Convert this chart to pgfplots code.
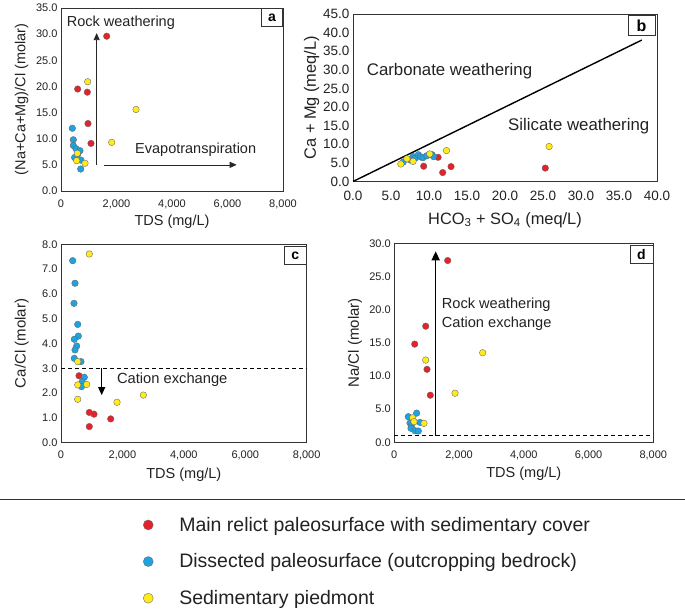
\documentclass[border=0pt]{standalone}
\usepackage{fontspec}
\setmainfont{Liberation Sans}
\usepackage{pgfplots}
\pgfplotsset{compat=1.18}
\usetikzlibrary{arrows.meta}
\definecolor{cred}{HTML}{E3232B}
\definecolor{cblue}{HTML}{1EA2E0}
\definecolor{cyel}{HTML}{FFEA1A}
\definecolor{txt}{HTML}{222222}
\pgfplotsset{
  base/.style={
    scale only axis, clip=false,
    axis line style={black!80, line width=0.8pt},
    major tick length=0pt, tick style={draw=none},
    scaled ticks=false,
    /pgf/number format/assume math mode=true,
    every tick label/.append style={text=txt},
    label style={text=txt},
  },
  ptr/.style={only marks, mark=*, mark size=3.3pt, mark options={fill=cred, draw=black!60, line width=0.35pt},
    legend image code/.code={\draw[##1, mark size=5pt] plot coordinates {(0pt,0pt)};}},
  ptb/.style={only marks, mark=*, mark size=3.3pt, mark options={fill=cblue, draw=black!60, line width=0.35pt},
    legend image code/.code={\draw[##1, mark size=5pt] plot coordinates {(0pt,0pt)};}},
  pty/.style={only marks, mark=*, mark size=3.3pt, mark options={fill=cyel, draw=black!60, line width=0.35pt},
    legend image code/.code={\draw[##1, mark size=5pt] plot coordinates {(0pt,0pt)};}},
  tdsx/.style={xmin=0, xmax=8000, xtick={0,2000,...,8000},
    xticklabel style={font=\fontsize{11}{13}\selectfont, yshift=-5pt, /pgf/number format/.cd, fixed, 1000 sep={,}}},
  oney/.style={yticklabel style={font=\fontsize{11}{13}\selectfont, /pgf/number format/.cd, fixed, fixed zerofill, precision=1}},
}
\newcommand\fs[1]{\fontsize{#1}{#1}\selectfont}
\begin{document}
\begin{tikzpicture}
\path[use as bounding box] (0pt,0pt) rectangle (685pt,610pt);

% ---------- panel a
\begin{axis}[base, tdsx, oney,
  at={(61pt,419pt)}, anchor=south west, width=222pt, height=183pt,
  ymin=0, ymax=35, ytick={0,5,...,35},
  xlabel={TDS (mg/L)}, ylabel={(Na+Ca+Mg)/Cl (molar)},
  xlabel style={at={(axis description cs:0.5,-0.169)}, anchor=center, font=\fs{14.5}},
  ylabel style={at={(axis description cs:-0.177,0.5)}, anchor=center, font=\fs{14.5}},
]
\addplot[ptr] coordinates {(1647,29.6) (601,19.5) (949,18.9) (973,12.9) (1081,9.1)};
\addplot[ptb] coordinates {(408,12.0) (444,9.8) (444,8.7) (540,8.1) (685,7.7) (600,7.0) (490,6.4) (720,5.9) (710,4.2)};
\addplot[pty] coordinates {(961,20.9) (2703,15.6) (1826,9.3) (589,7.2) (565,5.8) (865,5.3)};
\draw[-{Triangle[length=7pt,width=6pt]}, line width=0.7pt, black!85] (axis cs:1286,5) -- (axis cs:1286,30.2);
\draw[-{Triangle[length=7pt,width=6pt]}, line width=0.7pt, black!85] (axis cs:1561,5) -- (axis cs:6332,5);
\node[anchor=west, inner sep=0pt, font=\fs{14.5}, text=txt] at (axis cs:205,32.1) {Rock weathering};
\node[anchor=west, inner sep=0pt, font=\fs{14.5}, text=txt] at (axis cs:2667,7.85) {Evapotranspiration};
\node[draw=black!80, line width=0.8pt, fill=white, anchor=north east, minimum width=21pt, minimum height=18pt, inner sep=0pt, font=\bfseries\fs{14}] at (rel axis cs:1,1) {a};
\end{axis}

% ---------- panel b
\begin{axis}[base,
  at={(353pt,428.5pt)}, anchor=south west, width=304pt, height=167.5pt,
  xmin=0, xmax=40, ymin=0, ymax=45, xtick={0,5,...,40}, ytick={0,5,...,45},
  xticklabel style={font=\fs{13.5}, yshift=-6pt, /pgf/number format/.cd, fixed, fixed zerofill, precision=1},
  yticklabel style={font=\fs{13.5}, /pgf/number format/.cd, fixed, fixed zerofill, precision=1},
  xlabel={HCO\textsubscript{3} + SO\textsubscript{4} (meq/L)}, ylabel={Ca + Mg (meq/L)},
  xlabel style={at={(axis description cs:0.5,-0.23)}, anchor=center, font=\fs{16.4}},
  ylabel style={at={(axis description cs:-0.136,0.5)}, anchor=center, font=\fs{16.4}},
]
\addplot[black, line width=1.4pt, forget plot] coordinates {(0,0) (38,38)};
\addplot[ptr] coordinates {(11.2,6.5) (9.3,4.1) (11.8,2.4) (12.9,4.0) (25.3,3.6)};
\addplot[ptb] coordinates {(6.6,5.2) (7.5,5.8) (7.9,6.7) (8.2,6.3) (8.6,7.2) (8.9,6.6) (9.2,6.4) (9.7,6.9) (10.4,7.2) (10.6,6.7)};
\addplot[pty] coordinates {(6.3,4.7) (7.1,6.1) (7.9,5.4) (10.1,7.4) (12.3,8.3) (25.8,9.4)};
\node[anchor=west, inner sep=0pt, font=\fs{16.8}, text=txt] at (axis cs:1.8,29.7) {Carbonate weathering};
\node[anchor=west, inner sep=0pt, font=\fs{16.8}, text=txt] at (axis cs:20.4,15.0) {Silicate weathering};
\node[draw=black!80, line width=0.8pt, fill=white, anchor=north east, minimum width=27pt, minimum height=20pt, inner sep=0pt, font=\bfseries\fs{16}, xshift=-1.5pt, yshift=-1.5pt] at (rel axis cs:1,1) {b};
\end{axis}

% ---------- panel c
\begin{axis}[base, tdsx, oney,
  at={(61pt,167.3pt)}, anchor=south west, width=245.7pt, height=198.4pt,
  ymin=0, ymax=8, ytick={0,1,...,8},
  xlabel={TDS (mg/L)}, ylabel={Ca/Cl (molar)},
  xlabel style={at={(axis description cs:0.5,-0.16)}, anchor=center, font=\fs{14.5}},
  ylabel style={at={(axis description cs:-0.16,0.5)}, anchor=center, font=\fs{15}},
  legend cell align=left,
  legend style={at={(axis description cs:0.334,-0.364)}, anchor=north west, draw=none, fill=none,
    inner sep=0pt, font=\fs{19.5}, text=txt, row sep=17pt,
    /tikz/every odd column/.append style={column sep=24pt}},
]
\addplot[ptr] coordinates {(586,2.70) (922,1.22) (1075,1.15) (1619,0.96) (922,0.65)};
\addlegendentry{Main relict paleosurface with sedimentary cover}
\addplot[ptb] coordinates {(381,7.34) (456,6.43) (423,5.62) (544,4.77) (564,4.30) (433,4.17) (511,3.90) (456,3.74) (433,3.40) (651,3.27) (759,2.64) (690,2.46) (668,2.26)};
\addlegendentry{Dissected paleosurface (outcropping bedrock)}
\addplot[pty] coordinates {(922,7.61) (544,3.27) (544,2.33) (837,2.35) (544,1.75) (1824,1.63) (2681,1.92)};
\addlegendentry{Sedimentary piedmont}
\addplot[black, line width=1.1pt, dash pattern=on 4pt off 3pt, forget plot] coordinates {(0,3) (8000,3)};
\draw[-{Triangle[length=8pt,width=7pt]}, line width=1.1pt, black] (axis cs:1325,3.0) -- (axis cs:1325,1.92);
\node[anchor=west, inner sep=0pt, font=\fs{14.7}, text=txt] at (axis cs:1820,2.55) {Cation exchange};
\node[draw=black!80, line width=0.8pt, fill=white, anchor=north east, minimum width=22pt, minimum height=18pt, inner sep=0pt, font=\bfseries\fs{14}, yshift=-2pt] at (rel axis cs:1,1) {c};
\end{axis}

% ---------- panel d
\begin{axis}[base, tdsx, oney,
  at={(394.3pt,167.7pt)}, anchor=south west, width=259pt, height=199pt,
  ymin=0, ymax=30, ytick={0,5,...,30},
  xlabel={TDS (mg/L)}, ylabel={Na/Cl (molar)},
  xlabel style={at={(axis description cs:0.5,-0.16)}, anchor=center, font=\fs{14.5}},
  ylabel style={at={(axis description cs:-0.152,0.5)}, anchor=center, font=\fs{15}},
]
\addplot[ptr] coordinates {(1649,27.4) (970,17.5) (630,14.8) (1010,11.0) (1112,7.1)};
\addplot[ptb] coordinates {(432,3.86) (691,4.40) (485,2.9) (537,2.6) (516,2.1) (639,1.75) (741,1.7) (793,3.0)};
\addplot[pty] coordinates {(970,12.4) (2730,13.5) (1875,7.4) (568,3.7) (608,3.1) (917,2.86)};
\addplot[black, line width=1.1pt, dash pattern=on 4pt off 3pt, forget plot] coordinates {(0,1) (8000,1)};
\draw[-{Triangle[length=9pt,width=8pt]}, line width=1.6pt, black] (axis cs:1278,1.0) -- (axis cs:1278,28.8);
\node[anchor=west, inner sep=0pt, font=\fs{14.6}, text=txt] at (axis cs:1464,20.8) {Rock weathering};
\node[anchor=west, inner sep=0pt, font=\fs{14.6}, text=txt] at (axis cs:1464,17.8) {Cation exchange};
\node[draw=black!80, line width=0.8pt, fill=white, anchor=north east, minimum width=23pt, minimum height=18pt, inner sep=0pt, font=\bfseries\fs{14}, yshift=-2pt] at (rel axis cs:1,1) {d};
\end{axis}

\draw[line width=1pt, black!80] (0pt,110.7pt) -- (685pt,110.7pt);
\end{tikzpicture}
\end{document}
